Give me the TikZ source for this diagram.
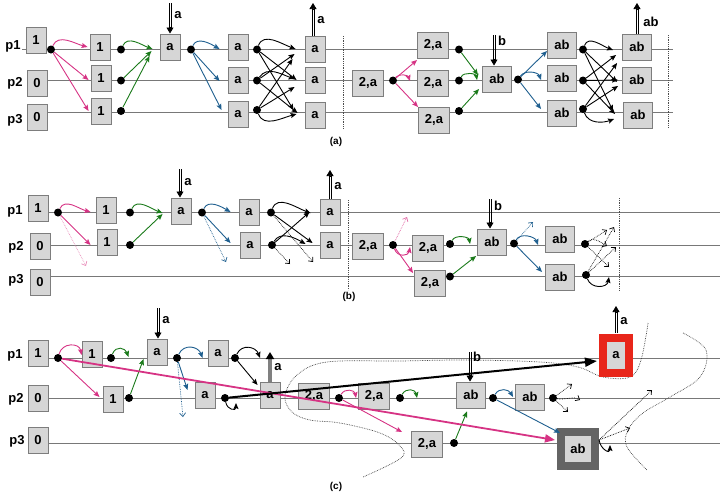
\documentclass[tikz,border=0pt]{standalone}
\usepackage{fontspec}
\setmainfont{Liberation Sans}
\usetikzlibrary{arrows.meta,calc}
\definecolor{boxfill}{RGB}{214,214,214}
\definecolor{boxline}{RGB}{125,125,125}
\definecolor{plinec}{RGB}{120,120,120}
\definecolor{pk}{RGB}{214,51,132}
\definecolor{gr}{RGB}{26,122,26}
\definecolor{bl}{RGB}{31,95,143}
\definecolor{rd}{RGB}{232,38,26}
\definecolor{dk}{RGB}{100,100,100}
\tikzset{
 bx/.style={draw=boxline, fill=boxfill, line width=0.9pt, minimum width=20pt, minimum height=26pt, inner sep=0pt, font=\bfseries\fontsize{13}{13}\selectfont},
 bxw/.style={bx, minimum width=31pt},
 bxa/.style={bx, minimum width=29pt},
 dt/.style={circle, fill=black, inner sep=0pt, minimum size=8pt},
 lab/.style={font=\bfseries\fontsize{13}{13}\selectfont, inner sep=0pt},
 capt/.style={font=\bfseries\fontsize{10}{11}\selectfont, inner sep=0pt},
 pl/.style={draw=plinec, line width=0.9pt},
 vd/.style={draw=black!70, line width=0.8pt, densely dotted},
 ar/.style={line width=0.9pt, -{Stealth[length=6pt,width=5pt,inset=1pt]}},
 dar/.style={line width=0.7pt, densely dotted, -{Straight Barb[length=3.5pt,width=6pt]}},
 ioshaft/.style={draw=black, line width=0.7pt, shorten >=5pt},
 iotip/.style={draw=black, line width=0.7pt, -{Triangle[length=6pt,width=7pt]}},
 dcurve/.style={draw=black!75, line width=0.7pt, densely dotted},
}
\newcommand\ioarr[2]{%
 \draw[ioshaft] ($(#1)!1.1pt!90:(#2)$) -- ($(#2)!1.1pt!-90:(#1)$);
 \draw[ioshaft] ($(#1)!1.1pt!-90:(#2)$) -- ($(#2)!1.1pt!90:(#1)$);
 \draw[iotip] ($(#2)!7pt!(#1)$) -- (#2);
}
\begin{document}
\begin{tikzpicture}[x=1pt,y=-1pt]
\useasboundingbox (0,0) rectangle (720,499);
% ================= panel (a) =================
\coordinate (aS1) at (22,49.5); \coordinate (aE1) at (673,49.5);
\coordinate (aS2) at (47,80.5); \coordinate (aE2) at (673,80.5);
\coordinate (aS3) at (40,112); \coordinate (aE3) at (673,112);
\draw[pl] (aS1) -- (aE1);
\draw[pl] (aS2) -- (aE2);
\draw[pl] (aS3) -- (aE3);
\coordinate (aV1t) at (343,36); \coordinate (aV1b) at (343,128);
\coordinate (aV2t) at (668,35); \coordinate (aV2b) at (668,128);
\draw[vd] (aV1t) -- (aV1b);
\draw[vd] (aV2t) -- (aV2b);
\node[lab] (apl1) at (13,46) {p1};
\node[lab] (apl2) at (15,83) {p2};
\node[lab] (apl3) at (15,120) {p3};
\node[bx] (a1) at (36,40) {1};
\node[bx] (a2) at (37,83) {0};
\node[bx] (a3) at (37,117) {0};
\node[bx] (a4) at (100,47) {1};
\node[bx] (a5) at (101,78) {1};
\node[bx] (a6) at (101,111) {1};
\node[bx] (a7) at (170,47) {a};
\node[bx] (a8) at (238,47) {a};
\node[bx] (a9) at (238,80) {a};
\node[bx] (a10) at (238,114) {a};
\node[bx] (a11) at (315,49) {a};
\node[bx] (a12) at (315,80) {a};
\node[bx] (a13) at (315,115) {a};
\node[bxw] (a14) at (368,83) {2,a};
\node[bxw] (a15) at (433,45) {2,a};
\node[bxw] (a16) at (433,83) {2,a};
\node[bxw] (a17) at (434,120) {2,a};
\node[bxa] (a18) at (497,79) {ab};
\node[bxa] (a19) at (562,45) {ab};
\node[bxa] (a20) at (562,78) {ab};
\node[bxa] (a21) at (562,113) {ab};
\node[bxa] (a22) at (637,47) {ab};
\node[bxa] (a23) at (637,80) {ab};
\node[bxa] (a24) at (638,115) {ab};
\node[dt] (d1) at (51,49.5) {};
\node[dt] (d2) at (121,49.5) {};
\node[dt] (d3) at (121,80.5) {};
\node[dt] (d4) at (121,111) {};
\node[dt] (d5) at (191,49.5) {};
\node[dt] (d6) at (257,49.5) {};
\node[dt] (d7) at (257,80.5) {};
\node[dt] (d8) at (257,110) {};
\node[dt] (d9) at (393,80.5) {};
\node[dt] (d10) at (459,49.5) {};
\node[dt] (d11) at (459,80.5) {};
\node[dt] (d12) at (459,111) {};
\node[dt] (d13) at (518,79.5) {};
\node[dt] (d14) at (583,49.5) {};
\node[dt] (d15) at (583,80.5) {};
\node[dt] (d16) at (583,109) {};
% pink
\draw[ar,pk] (d1) to[out=65,in=165] ([xshift=-2pt]a4.west);
\draw[ar,pk] (d1) -- ([shift={(-2,2)}]a5.west);
\draw[ar,pk] (d1) -- ([xshift=-2pt]a6.west);
% green
\draw[ar,gr] (d2) to[out=65,in=160] ([shift={(-7,2)}]a7.west);
\draw[ar,gr] (d3) -- ([shift={(-8,4)}]a7.west);
\draw[ar,gr] (d4) -- ([shift={(-10,9)}]a7.west);
% blue
\draw[ar,bl] (d5) to[out=65,in=150] ([shift={(-8,2)}]a8.west);
\draw[ar,bl] (d5) -- ([shift={(-8,1)}]a9.west);
\draw[ar,bl] (d5) -- ([shift={(-6,-4)}]a10.west);
% black crossing
\draw[ar] (d6) to[out=70,in=160] ([shift={(-9,0)}]a11.west);
\draw[ar] (d6) -- ([shift={(-8,0)}]a12.west);
\draw[ar] (d6) -- ([shift={(-11,-5)}]a13.west);
\draw[ar] (d7) -- ([shift={(-10,5)}]a11.west);
\draw[ar] (d7) to[out=55,in=160] ([shift={(-10,-1)}]a12.west);
\draw[ar] (d7) -- ([shift={(-7,-2)}]a13.west);
\draw[ar] (d8) -- ([shift={(-12,10)}]a11.west);
\draw[ar] (d8) -- ([shift={(-10,7)}]a12.west);
\draw[ar] (d8) to[out=-70,in=-165] ([shift={(-8,-1)}]a13.west);
% right half
\draw[ar,pk] (d9) -- ([shift={(0,15)}]a15.west);
\draw[ar,pk] (d9) to[out=50,in=110] ([shift={(-7,-2)}]a16.west);
\draw[ar,pk] (d9) -- ([shift={(0,-13)}]a17.west);
\draw[ar,gr] (d10) -- ([shift={(-4,-4)}]a18.west);
\draw[ar,gr] (d11) to[out=60,in=100] ([shift={(-5,1)}]a18.west);
\draw[ar,gr] (d12) -- ([shift={(-3,10)}]a18.west);
\draw[ar,bl] (d13) -- ([shift={(0,6)}]a19.west);
\draw[ar,bl] (d13) to[out=55,in=110] ([shift={(-6,2)}]a20.west);
\draw[ar,bl] (d13) -- ([shift={(-6,-4)}]a21.west);
\draw[ar] (d14) to[out=70,in=160] ([shift={(-9,3)}]a22.west);
\draw[ar] (d14) -- ([shift={(-5,2)}]a23.west);
\draw[ar] (d14) -- ([shift={(-10,-4)}]a24.west);
\draw[ar] (d15) -- ([shift={(-6,8)}]a22.west);
\draw[ar] (d15) -- ([shift={(-4,0)}]a23.west);
\draw[ar] (d15) -- ([shift={(-8,-1)}]a24.west);
\draw[ar] (d16) -- ([shift={(-5,16)}]a22.west);
\draw[ar] (d16) -- ([shift={(-4,6)}]a23.west);
\draw[ar] (d16) to[out=-70,in=-160] ([shift={(-9,4)}]a24.west);
% in/out
\coordinate (ain1) at (170,3);
\coordinate (ain1e) at (170,33.5);
\ioarr{ain1}{ain1e}
\node[lab] (ainl1) at (178,15) {a};
\coordinate (aout1) at (313,3);
\coordinate (aout1s) at (313,35.5);
\ioarr{aout1s}{aout1}
\node[lab] (aoutl1) at (321,20) {a};
\coordinate (ain2) at (494,35);
\coordinate (ain2e) at (494,65.5);
\ioarr{ain2}{ain2e}
\node[lab] (ainl2) at (502,41) {b};
\coordinate (aout2) at (637,3);
\coordinate (aout2s) at (637,33.5);
\ioarr{aout2s}{aout2}
\node[lab] (aoutl2) at (651,22) {ab};
\node[capt] (acap) at (336,142) {(a)};
% ================= panel (b) =================
\coordinate (bS1) at (48,212.5); \coordinate (bE1) at (720,212.5);
\coordinate (bS2) at (50,245); \coordinate (bE2) at (720,245);
\coordinate (bS3) at (50,276.5); \coordinate (bE3) at (720,276.5);
\draw[pl] (bS1) -- (bE1);
\draw[pl] (bS2) -- (bE2);
\draw[pl] (bS3) -- (bE3);
\coordinate (bV1t) at (348,200); \coordinate (bV1b) at (348,290);
\coordinate (bV2t) at (619,198); \coordinate (bV2b) at (619,290);
\draw[vd] (bV1t) -- (bV1b);
\draw[vd] (bV2t) -- (bV2b);
\node[lab] (bpl1) at (15,211) {p1};
\node[lab] (bpl2) at (16,247) {p2};
\node[lab] (bpl3) at (16,280) {p3};
\node[bx] (b1) at (38,208) {1};
\node[bx] (b2) at (40,246) {0};
\node[bx] (b3) at (40,282) {0};
\node[bx] (b4) at (106,210) {1};
\node[bx] (b5) at (107,242) {1};
\node[bx] (b6) at (181,211) {a};
\node[bx] (b7) at (249,212) {a};
\node[bx] (b8) at (250,245) {a};
\node[bx] (b9) at (330,212) {a};
\node[bx] (b10) at (330,245) {a};
\node[bxw] (b11) at (368,246) {2,a};
\node[bxw] (b12) at (428,248) {2,a};
\node[bxw] (b13) at (430,283) {2,a};
\node[bxa] (b14) at (492,242) {ab};
\node[bxa] (b15) at (560,239) {ab};
\node[bxa] (b16) at (560,277) {ab};
\node[dt] (e1) at (58,212.5) {};
\node[dt] (e2) at (130,212.5) {};
\node[dt] (e3) at (130,245) {};
\node[dt] (e4) at (202,212.5) {};
\node[dt] (e5) at (271,212.5) {};
\node[dt] (e6) at (272,245) {};
\node[dt] (e7) at (393,245) {};
\node[dt] (e8) at (450,244) {};
\node[dt] (e9) at (450,276.5) {};
\node[dt] (e10) at (514,243.5) {};
\node[dt] (e11) at (585,244) {};
\node[dt] (e12) at (586,275) {};
\coordinate (bx1) at (86,266);
\coordinate (bx2) at (226,262);
\coordinate (bx3) at (313,262);
\coordinate (bx4) at (290,264);
\coordinate (bx5) at (407,217);
\coordinate (bx6) at (533,222);
\coordinate (bx7) at (607,230);
\coordinate (bx8) at (607,246);
\coordinate (bx9) at (609,267);
\coordinate (bx10) at (614,227);
\coordinate (bx11) at (616,247);
\coordinate (bx12) at (609,277);
\draw[ar,pk] (e1) to[out=65,in=165] ([shift={(-5,2)}]b4.west);
\draw[ar,pk] (e1) -- ([shift={(-6,3)}]b5.west);
\draw[dar,pk!55] (e1) -- (bx1);
\draw[ar,gr] (e2) to[out=65,in=160] ([shift={(-8,2)}]b6.west);
\draw[ar,gr] (e3) -- ([shift={(-8,3)}]b6.west);
\draw[ar,bl] (e4) to[out=65,in=150] ([shift={(-8,0)}]b7.west);
\draw[ar,bl] (e4) -- ([shift={(-9,-2)}]b8.west);
\draw[dar,bl] (e4) -- (bx2);
\draw[ar] (e5) to[out=70,in=160] ([shift={(-9,1)}]b9.west);
\draw[ar] (e5) -- ([shift={(-7,-2)}]b10.west);
\draw[dar] (e5) -- (bx3);
\draw[ar] (e6) -- ([shift={(-10,0)}]b9.west);
\draw[ar] (e6) to[out=60,in=150] ([shift={(-14,-1)}]b10.west);
\draw[dar] (e6) -- (bx4);
\draw[dar,pk!70] (e7) -- (bx5);
\draw[ar,pk] (e7) to[out=-70,in=-100,looseness=1.5] ([shift={(-2,-1)}]b12.west);
\draw[ar,pk] (e7) -- ([shift={(-1,-10)}]b13.west);
\draw[ar,gr] (e8) to[out=60,in=100] ([shift={(-7,2)}]b14.west);
\draw[ar,gr] (e9) -- ([shift={(-1,14)}]b14.west);
\draw[dar,bl] (e10) -- (bx6);
\draw[ar,bl] (e10) to[out=60,in=110] ([shift={(-7,6)}]b15.west);
\draw[ar,bl] (e10) -- ([shift={(-3,-5)}]b16.west);
\draw[dar] (e11) -- (bx7);
\draw[dar] (e11) to[out=40,in=150] (bx8);
\draw[dar] (e11) -- (bx9);
\draw[dar] (e12) -- (bx10);
\draw[dar] (e12) -- (bx11);
\draw[ar] (e12) to[out=-70,in=-100,looseness=1.3] (bx12);
\coordinate (bin1) at (180,169);
\coordinate (bin1e) at (180,197.5);
\ioarr{bin1}{bin1e}
\node[lab] (binl1) at (188,182) {a};
\coordinate (bout1) at (330,170);
\coordinate (bout1s) at (330,198.5);
\ioarr{bout1s}{bout1}
\node[lab] (boutl1) at (338,186) {a};
\coordinate (bin2) at (490,199);
\coordinate (bin2e) at (490,228.5);
\ioarr{bin2}{bin2e}
\node[lab] (binl2) at (498,206) {b};
\node[capt] (bcap) at (349,297) {(b)};
% ================= panel (c) =================
\coordinate (cS1) at (48,358); \coordinate (cE1) at (720,358);
\coordinate (cS2) at (48,398); \coordinate (cE2) at (720,398);
\coordinate (cS3) at (48,443); \coordinate (cE3) at (720,443);
\draw[pl] (cS1) -- (cE1);
\draw[pl] (cS2) -- (cE2);
\draw[pl] (cS3) -- (cE3);
% dotted boundary curves
\draw[dcurve] plot[smooth, tension=0.6] coordinates {(648,323) (641,360) (630,377) (603,377) (578,367) (540,362) (467,360) (400,361) (327,362) (297,375) (285,396) (292,412) (310,420) (340,423) (380,433) (400,446) (401,458) (363,477)};
\draw[dcurve] plot[smooth, tension=0.6] coordinates {(683,333) (706,350) (700,377) (670,397) (643,413) (628,430) (627,447) (647,470)};
\node[lab] (cpl1) at (15,355) {p1};
\node[lab] (cpl2) at (16,399) {p2};
\node[lab] (cpl3) at (17,441) {p3};
\node[bx] (c1) at (38,353) {1};
\node[bx] (c2) at (38,398) {0};
\node[bx] (c3) at (38,440) {0};
\node[bx] (c4) at (92,354) {1};
\node[bx] (c5) at (113,399) {1};
\node[bx] (c6) at (157,352) {a};
\node[bx] (c7) at (218,353) {a};
\node[bx] (c8) at (205,395) {a};
\node[bx] (c9) at (270,395) {a};
\node[bxw] (c10) at (314,396) {2,a};
\node[bxw] (c11) at (374,396) {2,a};
\node[bxw] (c12) at (427,444) {2,a};
\node[bxa] (c13) at (471,395) {ab};
\node[bxa] (c14) at (530,397) {ab};
\node[bx, draw=rd, line width=8pt, minimum width=26pt, minimum height=35pt] (c15) at (616,355) {a};
\node[bx, draw=dk, line width=8pt, minimum width=34pt, minimum height=34pt] (c16) at (578,449) {ab};
\node[dt] (f1) at (58,358) {};
\node[dt] (f2) at (111,358) {};
\node[dt] (f3) at (129,398) {};
\node[dt] (f4) at (177,358) {};
\node[dt] (f5) at (235,358) {};
\node[dt] (f6) at (225,398) {};
\node[dt] (f7) at (339,398) {};
\node[dt] (f8) at (400,398) {};
\node[dt] (f9) at (454,443) {};
\node[dt] (f10) at (493,398) {};
\node[dt] (f11) at (553,398) {};
\coordinate (cx1) at (183,417);
\coordinate (cx2) at (260,358);
\coordinate (cx3) at (236,403);
\coordinate (cx4) at (417,398);
\coordinate (cx5) at (572,384);
\coordinate (cx6) at (580,400);
\coordinate (cx7) at (568,412);
\coordinate (cx8) at (652,390);
\coordinate (cx9) at (630,428);
\coordinate (cx10) at (610,445);
\draw[ar,pk] (f1) to[out=75,in=100,looseness=1.4] ([shift={(0,1)}]c4.west);
\draw[ar,pk] (f1) -- ([shift={(-3,-2)}]c5.west);
\draw[ar,gr] (f2) to[out=70,in=110,looseness=1.5] ([shift={(-18,5)}]c6.west);
\draw[ar,gr] (f3) -- ([shift={(-3,7)}]c6.west);
\draw[ar,bl] (f4) to[out=65,in=110,looseness=1.3] ([shift={(-5,5)}]c7.west);
\draw[ar,bl] (f4) -- ([shift={(-7,-5)}]c8.west);
\draw[dar,bl] (f4) -- (cx1);
\draw[ar] (f5) to[out=65,in=110,looseness=1.3] (cx2);
\draw[ar] (f5) -- ([shift={(-2,-10)}]c9.west);
\draw[ar] (f6) to[out=-80,in=-90,looseness=2] (cx3);
\draw[ar,pk] (f7) to[out=60,in=100,looseness=1.3] ([shift={(-2,2)}]c11.west);
\draw[ar,pk] (f7) -- ([shift={(-9,-12)}]c12.west);
\draw[ar,gr] (f8) to[out=60,in=100,looseness=1.4] (cx4);
\draw[ar,gr] (f9) -- ([shift={(-4,3)}]c13.south);
\draw[ar,bl] (f10) to[out=60,in=120,looseness=1.2] ([shift={(-2,0)}]c14.west);
\draw[ar,bl] (f10) -- ([shift={(3,5)}]c16.north west);
\draw[dar] (f11) -- (cx5);
\draw[dar] (f11) to[out=-10,in=150] (cx6);
\draw[dar] (f11) -- (cx7);
\draw[dar] ([shift={(0,-9)}]c16.east) -- (cx8);
\draw[dar] ([shift={(0,-9)}]c16.east) -- (cx9);
\draw[ar] ([shift={(0,-9)}]c16.east) to[out=-80,in=-90,looseness=2] (cx10);
% thick long arrows
\draw[pk, line width=1.8pt, -{Triangle[length=10pt,width=8pt]}] (f1) -- ([shift={(-2,-9)}]c16.west);
\draw[black, line width=2pt, -{Triangle[length=12pt,width=9pt]}] (f6) -- ([shift={(-2,6)}]c15.west);
% in/out
\coordinate (cin1) at (158,308);
\coordinate (cin1e) at (158,338.5);
\ioarr{cin1}{cin1e}
\node[lab] (cinl1) at (166,320) {a};
\coordinate (cout1) at (270,352);
\draw[black!50, line width=3.5pt, -{Triangle[length=7pt,width=8pt,color=black]}] (c9.north) -- (cout1);
\node[lab] (coutl1) at (278,367) {a};
\coordinate (cin2) at (470,352);
\coordinate (cin2e) at (470,381.5);
\ioarr{cin2}{cin2e}
\node[lab] (cinl2) at (477,357) {b};
\coordinate (cout2) at (616,306);
\coordinate (cout2s) at (616,333);
\ioarr{cout2s}{cout2}
\node[lab] (coutl2) at (624,321) {a};
\node[capt] (ccap) at (336,487) {(c)};
\end{tikzpicture}
\end{document}
